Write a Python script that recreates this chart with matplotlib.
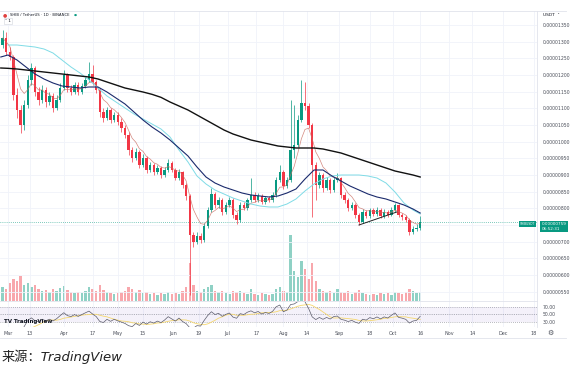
import numpy as np
import pandas as pd
import matplotlib
matplotlib.use('Agg')
import matplotlib.pyplot as plt
from matplotlib.lines import Line2D

# SHIB / TetherUS, Binance, read off the chart as 2-day candles
# prices in units of 1e-6 USDT, day 0 = 1 Mar 2023
first_day = -3
first_open = 12.90
closes = [13.11, 12.69, 12.54, 11.40, 10.95, 10.50, 11.10, 11.85, 12.21, 11.49,
          11.25, 11.55, 11.19, 11.37, 11.01, 11.25, 11.61, 12.00, 11.61, 11.49,
          11.70, 11.49, 11.67, 11.85, 12.03, 11.79, 11.55, 10.89, 10.71, 10.95,
          10.65, 10.80, 10.59, 10.41, 10.20, 9.75, 9.51, 9.69, 9.30, 9.51,
          9.15, 9.30, 9.09, 9.21, 9.00, 9.15, 9.36, 9.15, 8.91, 9.09,
          8.70, 8.37, 7.20, 6.99, 7.17, 7.05, 7.47, 7.95, 8.43, 8.10,
          8.25, 7.89, 8.10, 8.25, 7.80, 7.65, 8.10, 8.01, 8.25, 8.40,
          8.25, 8.37, 8.19, 8.31, 8.25, 8.40, 8.85, 9.09, 8.67, 8.85,
          9.75, 9.90, 10.65, 11.16, 11.07, 10.50, 9.30, 8.70, 9.00, 8.61,
          8.85, 8.55, 8.85, 8.91, 8.40, 8.25, 8.01, 8.10, 7.80, 7.59,
          7.89, 7.77, 7.95, 7.83, 7.95, 7.77, 7.89, 7.80, 7.95, 8.10,
          7.80, 7.74, 7.65, 7.29, 7.38, 7.41, 7.59]
highs = [13.35, 13.30, 12.84, 12.60, 11.61, 11.10, 11.25, 12.00, 12.36, 12.27,
         11.64, 11.70, 11.65, 11.50, 11.45, 11.40, 11.75, 12.15, 12.05, 11.70,
         11.80, 11.78, 11.75, 11.95, 12.39, 12.30, 11.85, 11.60, 11.00, 11.05,
         11.02, 10.90, 10.88, 10.70, 10.50, 10.28, 9.85, 9.80, 9.75, 9.62,
         9.58, 9.40, 9.36, 9.30, 9.28, 9.25, 9.48, 9.42, 9.20, 9.18,
         9.12, 8.75, 8.42, 7.30, 7.28, 7.25, 7.55, 8.05, 8.60, 8.50,
         8.35, 8.30, 8.20, 8.35, 8.30, 7.88, 8.18, 8.20, 8.32, 8.91,
         8.48, 8.45, 8.42, 8.38, 8.36, 8.48, 8.95, 9.30, 9.15, 8.95,
         11.25, 11.10, 10.80, 11.85, 11.80, 11.15, 10.55, 9.40, 9.10, 9.05,
         8.95, 8.90, 8.95, 9.06, 8.95, 8.48, 8.30, 8.20, 8.15, 7.85,
         7.98, 7.95, 8.02, 8.00, 8.04, 8.00, 7.97, 7.95, 8.03, 8.16,
         8.14, 7.86, 7.80, 7.70, 7.46, 7.52, 7.77]
lows = [12.80, 12.60, 12.45, 11.25, 10.71, 10.26, 10.35, 11.00, 11.70, 11.37,
        11.10, 11.15, 11.05, 11.10, 10.90, 10.95, 11.20, 11.55, 11.50, 11.40,
        11.42, 11.40, 11.42, 11.60, 11.80, 11.70, 11.45, 10.75, 10.60, 10.65,
        10.55, 10.58, 10.50, 10.30, 10.10, 9.60, 9.40, 9.45, 9.20, 9.25,
        9.05, 9.08, 9.00, 9.02, 8.92, 8.95, 9.10, 9.08, 8.85, 8.86,
        8.62, 8.25, 5.40, 6.85, 6.92, 6.95, 7.00, 7.40, 7.90, 8.00,
        8.02, 7.80, 7.82, 8.05, 7.70, 7.52, 7.60, 7.95, 7.96, 8.20,
        8.18, 8.20, 8.12, 8.14, 8.18, 8.20, 8.35, 8.80, 8.58, 8.60,
        8.80, 9.50, 9.85, 10.60, 10.95, 10.40, 7.74, 8.25, 8.62, 8.50,
        8.55, 8.45, 8.50, 8.78, 8.32, 8.15, 7.92, 7.95, 7.70, 7.50,
        7.55, 7.70, 7.72, 7.76, 7.78, 7.70, 7.72, 7.74, 7.76, 7.90,
        7.74, 7.66, 7.58, 7.20, 7.22, 7.33, 7.36]
# volume, arbitrary units
volume = [14, 12, 18, 22, 20, 25, 16, 18, 14, 16,
          12, 10, 11, 9, 12, 10, 13, 15, 11, 9,
          8, 9, 8, 10, 14, 12, 10, 16, 11, 9,
          8, 7, 8, 9, 10, 14, 12, 9, 11, 8,
          9, 7, 8, 6, 8, 7, 9, 7, 8, 7,
          10, 14, 38, 16, 10, 9, 12, 14, 16, 10,
          9, 10, 8, 7, 10, 9, 10, 8, 7, 12,
          7, 6, 8, 7, 6, 7, 12, 14, 10, 9,
          66, 30, 24, 40, 32, 22, 38, 20, 12, 10,
          9, 10, 8, 12, 9, 8, 10, 7, 9, 11,
          8, 7, 6, 7, 6, 8, 7, 8, 6, 9,
          8, 7, 9, 12, 10, 8, 9]

# moving averages as drawn on the chart
ma_days = [-4, 0, 5, 10, 15, 20, 25, 30, 35, 40, 45, 50, 55, 60, 65, 70, 75, 80,
           85, 90, 95, 100, 105, 110, 115, 120, 125, 130, 135, 140, 145, 150,
           155, 160, 165, 170, 175, 180, 185, 190, 195, 200, 205, 210, 215,
           220, 225, 229]
ma_long = [12.21, 12.20, 12.18, 12.15, 12.12, 12.09, 12.06, 12.03, 12.00, 11.97,
           11.94, 11.88, 11.79, 11.70, 11.61, 11.55, 11.49, 11.42, 11.33, 11.19,
           11.07, 10.95, 10.80, 10.65, 10.50, 10.35, 10.23, 10.14, 10.05, 9.99,
           9.93, 9.87, 9.84, 9.81, 9.81, 9.81, 9.78, 9.72, 9.66, 9.57,
           9.48, 9.39, 9.30, 9.21, 9.12, 9.06, 9.00, 8.94]
ma_mid = [12.54, 12.60, 12.45, 12.24, 12.03, 11.88, 11.76, 11.67, 11.64, 11.61,
          11.64, 11.64, 11.49, 11.31, 11.13, 10.89, 10.65, 10.44, 10.26, 10.05,
          9.81, 9.57, 9.24, 8.94, 8.76, 8.64, 8.55, 8.46, 8.40, 8.37,
          8.34, 8.37, 8.46, 8.58, 8.88, 9.15, 9.15, 8.97, 8.82, 8.67,
          8.55, 8.43, 8.34, 8.28, 8.19, 8.10, 7.98, 7.86]
ma_cyan = [np.nan, 12.90, 12.90, 12.87, 12.84, 12.78, 12.66, 12.45, 12.24, 12.06,
           11.85, 11.61, 11.37, 11.19, 11.01, 10.83, 10.68, 10.53, 10.38, 10.14,
           9.75, 9.39, 8.97, 8.73, 8.55, 8.43, 8.31, 8.22, 8.13, 8.07,
           8.04, 8.04, 8.13, 8.28, 8.52, 8.73, 8.88, 8.97, 9.00, 9.00,
           9.00, 8.97, 8.91, 8.76, 8.49, 8.16, 7.95, 7.83]

# trendline drawn under the September range
trend_days = [195, 216]
trend_prices = [7.50, 7.89]

price_ticks = [13.5, 13.0, 12.5, 12.0, 11.5, 11.0, 10.5, 10.0, 9.5, 9.0,
               8.5, 8.0, 7.5, 7.0, 6.5, 6.0, 5.5]
date_ticks = [0, 12, 31, 47, 61, 75, 92, 106, 122, 138, 153, 166, 184, 201,
              214, 229, 245, 258, 275, 292]
date_labels = ['Mar', '13', 'Apr', '17', 'May', '15', 'Jun', '19', 'Jul', '17',
               'Aug', '14', 'Sep', '18', 'Oct', '16', 'Nov', '14', 'Dec', '18']

up_col = '#089981'
dn_col = '#f23645'
grid_col = '#f0f3fa'
text_col = '#4a4e59'

n = len(closes)
days = first_day + 2 * np.arange(n)
c = np.array(closes)
o = np.array([first_open] + closes[:-1])
rising = c >= o
colors = np.where(rising, up_col, dn_col)
last = closes[-1]

W, H = 583, 377


def box(x0, y0, x1, y1):
    return [x0 / W, 1 - y1 / H, (x1 - x0) / W, (y1 - y0) / H]


fig = plt.figure(figsize=(W / 100, H / 100), dpi=100)

axv = fig.add_axes(box(0, 11, 537, 301))
ax = fig.add_axes(box(0, 11, 537, 301), sharex=axv)
rax = fig.add_axes(box(0, 301, 537, 327), sharex=axv)
ax.patch.set_visible(False)

# volume underlay
vcol = np.where(rising, '#8fd1c5', '#f8a7ac')
axv.bar(days, volume, width=1.3, color=vcol, linewidth=0)
axv.set_ylim(0, 290)
axv.axis('off')

# grid
for v in price_ticks:
    ax.axhline(v, color=grid_col, lw=0.6, zorder=0)
for d in date_ticks:
    ax.axvline(d, color=grid_col, lw=0.6, zorder=0)
    rax.axvline(d, color=grid_col, lw=0.6, zorder=0)

# candles
ax.vlines(days, lows, highs, colors=colors, lw=0.5, zorder=2)
ax.bar(days, np.abs(c - o), bottom=np.minimum(c, o), width=1.3,
       color=colors, linewidth=0, zorder=3)

# moving averages
ema = pd.Series(closes).ewm(span=6, adjust=False).mean()
ax.plot(days, ema, color='#c96a5f', lw=0.5, alpha=0.8, zorder=4)
ax.plot(ma_days, ma_cyan, color='#7fdbe6', lw=0.7, zorder=4)
ax.plot(ma_days, ma_mid, color='#1a2a6c', lw=0.8, zorder=4)
ax.plot(ma_days, ma_long, color='#111111', lw=1.0, zorder=4)
ax.plot(trend_days, trend_prices, color='#222222', lw=0.7, zorder=5)

# last price line and tags
ax.axhline(last, color=up_col, lw=0.5, ls=(0, (1, 2)), zorder=1)
ax.annotate('%.8f\n06:52:31' % (last * 1e-6), xy=(1.0, last),
            xycoords=('axes fraction', 'data'), xytext=(3.2, 0),
            textcoords='offset points', va='top', ha='left', fontsize=3,
            color='white', linespacing=1.3,
            bbox=dict(boxstyle='square,pad=0.35', fc=up_col, ec='none'))
ax.annotate('SHIBUSDT', xy=(1.0, last), xycoords=('axes fraction', 'data'),
            xytext=(-1.5, 0), textcoords='offset points', va='top',
            ha='right', fontsize=2.2, color='white',
            bbox=dict(boxstyle='square,pad=0.3', fc=up_col, ec='none'))

ax.set_xlim(-4.44, 293.9)
ax.set_ylim(5.22, 13.92)
ax.yaxis.tick_right()
ax.set_yticks(price_ticks)
# the price tag covers the label closest to the last price
ax.set_yticklabels(['' if abs(v - last) < 0.2 else '%.8f' % (v * 1e-6)
                    for v in price_ticks])
ax.tick_params(axis='y', length=0, pad=4, labelsize=3.3, labelcolor=text_col)
ax.tick_params(axis='x', length=0, labelbottom=False)
for s in ['top', 'left', 'bottom']:
    ax.spines[s].set_visible(False)
ax.spines['right'].set_color('#e0e3eb')
ax.spines['right'].set_linewidth(0.6)

# RSI pane
s = pd.Series(closes)
delta = s.diff()
gain = delta.clip(lower=0).ewm(alpha=1 / 7, adjust=False).mean()
loss = (-delta.clip(upper=0)).ewm(alpha=1 / 7, adjust=False).mean()
rsi = 100 - 100 / (1 + gain / loss)
rsi_ma = rsi.rolling(7).mean()

rax.axhspan(30, 70, color='#7e57c2', alpha=0.08, lw=0)
rax.axhline(70, color='#787b86', lw=0.5, ls=(0, (1, 2)))
rax.axhline(50, color='#787b86', lw=0.4, ls=(0, (2, 2)))
rax.axhline(30, color='#787b86', lw=0.5, ls=(0, (1, 2)))
rax.plot(days, rsi_ma, color='#f5d76e', lw=0.6)
rax.plot(days, rsi, color='#5b5b6b', lw=0.5)
rax.set_ylim(16, 86)
rax.yaxis.tick_right()
rax.set_yticks([70, 50, 30])
rax.set_yticklabels(['70.00', '50.00', '30.00'])
rax.tick_params(axis='y', length=0, pad=4, labelsize=3.3, labelcolor=text_col)
rax.set_xticks(date_ticks)
rax.set_xticklabels(date_labels)
rax.tick_params(axis='x', length=0, pad=3, labelsize=3.5, labelcolor=text_col)
for side in ['left', 'bottom']:
    rax.spines[side].set_visible(False)
for side in ['top', 'right']:
    rax.spines[side].set_color('#e0e3eb')
    rax.spines[side].set_linewidth(0.6)
rax.text(0.008, 0.12, 'TV TradingView', transform=rax.transAxes, fontsize=4,
         fontweight='bold', color='#131722', va='bottom')

# frame lines of the widget
fig.add_artist(Line2D([0, 566 / W], [1 - 338 / H, 1 - 338 / H],
                      color='#e0e3eb', lw=0.6))
fig.add_artist(Line2D([0, 566 / W], [1 - 11 / H, 1 - 11 / H],
                      color='#e0e3eb', lw=0.6))

# header texts
fig.text(3 / W, 1 - 15 / H, '\u25cf', fontsize=3.5, color='#e0403e', va='center')
fig.text(10 / W, 1 - 15 / H, 'SHIB / TetherUS \u00b7 1D \u00b7 BINANCE',
         fontsize=2.7, color='#131722', va='center')
fig.text(74 / W, 1 - 15 / H, '\u25cf', fontsize=2.5, color=up_col, va='center')
fig.text(5 / W, 1 - 21 / H, '\u02c5 1', fontsize=3, color='#131722', va='center',
         bbox=dict(boxstyle='square,pad=0.2', fc='white', ec='#d1d4dc', lw=0.4))
fig.text(543 / W, 1 - 15 / H, 'USDT  \u02c5', fontsize=3.2, color='#131722',
         va='center')
fig.text(547 / W, 1 - 333 / H, '\u2699', fontsize=5, color='#4a4e59', va='center')

# source caption
fig.text(2 / W, 1 - 357 / H, '来源：TradingView', fontsize=9.5, color='#222222',
         va='center', family=['DejaVu Sans', 'Noto Sans CJK SC'], style='italic')

fig.savefig('out.png', dpi=100)
